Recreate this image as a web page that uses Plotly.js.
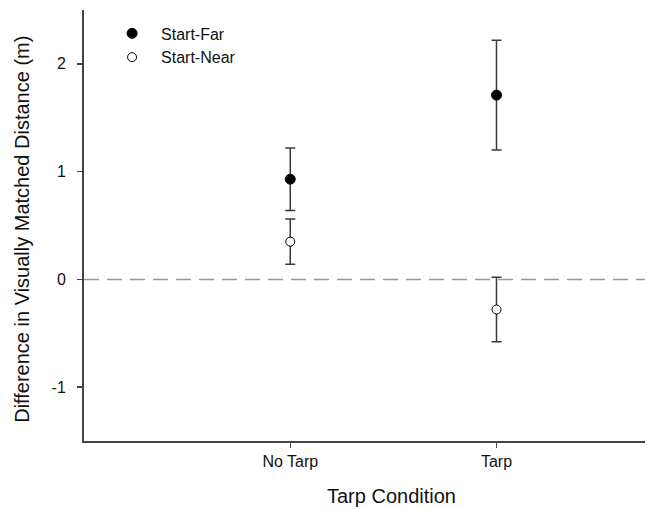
<!DOCTYPE html>
<html>
<head>
<meta charset="utf-8">
<script src="https://cdn.plot.ly/plotly-3.0.1.min.js"></script>
<style>html,body{margin:0;padding:0;background:#fff;}#chart{width:647px;height:509px;}</style>
</head>
<body>
<div id="chart"></div>
<script>
var categories = ["No Tarp", "Tarp"];
var categoryPos = [1, 2];
var startFar = [0.93, 1.71];
var startFarErr = [0.29, 0.51];
var startNear = [0.35, -0.28];
var startNearErr = [0.21, 0.30];
var yTicks = [-1, 0, 1, 2];

var errStyle = {color: "#3a3a3a", thickness: 1.5, width: 5};
var traces = [
  {
    x: categoryPos, y: startFar, name: "Start-Far", type: "scatter", mode: "markers",
    error_y: Object.assign({type: "data", array: startFarErr, visible: true}, errStyle),
    marker: {symbol: "circle", size: 10, color: "#000", line: {color: "#000", width: 1}}
  },
  {
    x: categoryPos, y: startNear, name: "Start-Near", type: "scatter", mode: "markers",
    error_y: Object.assign({type: "data", array: startNearErr, visible: true}, errStyle),
    marker: {symbol: "circle", size: 9, color: "#fff", line: {color: "#000", width: 1}}
  }
];

var layout = {
  width: 647, height: 509,
  margin: {l: 84, r: 2, t: 10, b: 68},
  paper_bgcolor: "#fff", plot_bgcolor: "#fff",
  font: {family: "Liberation Sans, Arial, sans-serif", color: "#111", size: 16},
  showlegend: true,
  legend: {x: 0.034, y: 0.985, xanchor: "left", yanchor: "top", bgcolor: "rgba(0,0,0,0)",
           font: {size: 16}, tracegroupgap: 0, itemwidth: 48},
  xaxis: {
    range: [0, 2.72], tickvals: categoryPos, ticktext: categories,
    showgrid: false, zeroline: false, showline: true, linecolor: "#444", linewidth: 2,
    ticks: "outside", ticklen: 5, tickcolor: "#444", tickwidth: 1.5, mirror: false
  },
  yaxis: {
    range: [-1.5, 2.5], tickvals: yTicks, ticktext: yTicks.map(String),
    showgrid: false, zeroline: false, showline: true, linecolor: "#444", linewidth: 2,
    ticks: "outside", ticklen: 5, tickcolor: "#444", tickwidth: 1.5, ticklabelstandoff: 8
  },
  shapes: [{
    type: "line", xref: "paper", x0: 0, x1: 1, yref: "y", y0: 0, y1: 0,
    line: {color: "#999", width: 1.5, dash: "15px,8px"}, layer: "below"
  }],
  annotations: [
    {
      text: "Tarp Condition", xref: "paper", yref: "paper", x: 0.549, y: 0,
      yshift: -55, showarrow: false, xanchor: "center", yanchor: "middle", font: {size: 20}
    },
    {
      text: "Difference in Visually Matched Distance (m)", xref: "paper", yref: "paper",
      x: 0, xshift: -62, y: 0.49, textangle: -90, showarrow: false,
      xanchor: "center", yanchor: "middle", font: {size: 20}
    }
  ]
};

Plotly.newPlot("chart", traces, layout, {displayModeBar: false, staticPlot: true});
</script>
</body>
</html>
